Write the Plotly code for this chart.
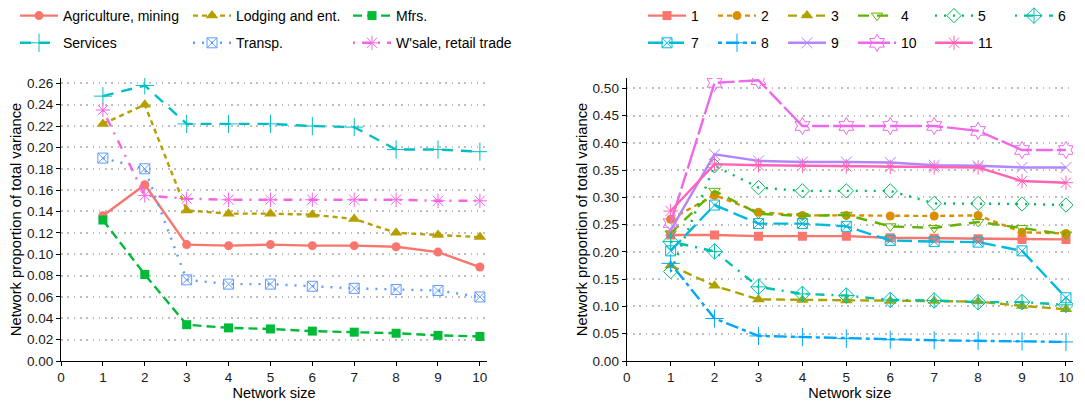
import plotly.graph_objects as go

W, H = 1085, 403

network_size = [1, 2, 3, 4, 5, 6, 7, 8, 9, 10]

# Left panel: sectors
sector_names = ["Agriculture, mining", "Lodging and ent.", "Mfrs.", "Services", "Transp.", "W'sale, retail trade"]
agri = [0.136, 0.165, 0.109, 0.108, 0.109, 0.108, 0.108, 0.107, 0.102, 0.088]
lodging = [0.222, 0.240, 0.141, 0.138, 0.138, 0.137, 0.133, 0.120, 0.118, 0.116]
mfrs = [0.132, 0.081, 0.034, 0.031, 0.030, 0.028, 0.027, 0.026, 0.024, 0.023]
services = [0.248, 0.258, 0.222, 0.222, 0.222, 0.220, 0.219, 0.198, 0.198, 0.196]
transp = [0.190, 0.180, 0.076, 0.072, 0.072, 0.070, 0.068, 0.067, 0.066, 0.060]
wsale = [0.235, 0.155, 0.152, 0.151, 0.151, 0.151, 0.151, 0.151, 0.150, 0.150]
left_values = [agri, lodging, mfrs, services, transp, wsale]

# Right panel: clusters 1..11
cluster_names = ["1", "2", "3", "4", "5", "6", "7", "8", "9", "10", "11"]
c1 = [0.231, 0.231, 0.229, 0.229, 0.229, 0.226, 0.225, 0.224, 0.223, 0.223]
c2 = [0.260, 0.304, 0.273, 0.267, 0.267, 0.266, 0.266, 0.267, 0.236, 0.234]
c3 = [0.175, 0.138, 0.113, 0.112, 0.111, 0.110, 0.110, 0.109, 0.101, 0.095]
c4 = [0.234, 0.312, 0.270, 0.266, 0.268, 0.247, 0.244, 0.255, 0.244, 0.232]
c5 = [0.164, 0.358, 0.318, 0.312, 0.312, 0.312, 0.289, 0.289, 0.288, 0.286]
c6 = [0.219, 0.201, 0.136, 0.123, 0.120, 0.112, 0.111, 0.108, 0.108, 0.103]
c7 = [0.202, 0.286, 0.252, 0.252, 0.247, 0.221, 0.219, 0.218, 0.202, 0.116]
c8 = [0.179, 0.078, 0.046, 0.044, 0.041, 0.039, 0.038, 0.037, 0.036, 0.035]
c9 = [0.240, 0.379, 0.367, 0.365, 0.365, 0.364, 0.359, 0.358, 0.355, 0.355]
c10 = [0.253, 0.510, 0.515, 0.431, 0.431, 0.431, 0.431, 0.422, 0.387, 0.387]
c11 = [0.275, 0.361, 0.359, 0.358, 0.357, 0.356, 0.355, 0.355, 0.330, 0.327]
right_values = [c1, c2, c3, c4, c5, c6, c7, c8, c9, c10, c11]

left_y_ticks = [round(0.02 * i, 2) for i in range(14)]
right_y_ticks = [round(0.05 * i, 2) for i in range(11)]
x_ticks = list(range(0, 11))

# Styles
left_colors = ["#F8766D", "#B79F00", "#00BA38", "#00BFC4", "#619CFF", "#F564E3"]
left_dash = ["solid", "5px,4px", "9px,5px", "11px,8px", "2px,7px", "2px,7px,9px,7px"]
left_symbols = ["circle", "triangle-up", "square", "cross-thin-open", "square-x-open", "asterisk-open"]
left_sizes = [9, 11, 9, 13, 10, 12]
left_legend = ["legend", "legend2", "legend3", "legend", "legend2", "legend3"]

right_colors = ["#F8766D", "#DB8E00", "#AEA200", "#64B200", "#00BD5C", "#00C1A7",
                "#00BADE", "#00A6FF", "#B385FF", "#EF67EB", "#FF63B6"]
right_dash = ["solid", "5px,4px", "9px,5px", "11px,8px", "2px,7px", "2px,7px,9px,7px",
              "15px,6px", "4px,4px,13px,4px", "solid", "32px,4px,17px,4px", "solid"]
right_symbols = ["square", "circle", "triangle-up", "triangle-down-open", "diamond-open",
                 "diamond-cross-open", "square-x-open", "cross-thin-open", "x-thin-open",
                 "hexagram-open", "asterisk-open"]
right_sizes = [9, 9, 11, 10, 11, 12, 10, 13, 11, 13, 12]
right_legend = ["legend4", "legend5", "legend6", "legend7", "legend8", "legend9",
                "legend4", "legend5", "legend6", "legend7", "legend8"]

fig = go.Figure()

for i, (name, vals) in enumerate(zip(sector_names, left_values)):
    open_sym = left_symbols[i].endswith("open")
    fig.add_trace(go.Scatter(
        x=network_size, y=vals, name=name, mode="lines+markers",
        xaxis="x", yaxis="y", legend=left_legend[i], legendgroup="L%d" % i,
        line=dict(color=left_colors[i], width=2.4, dash=left_dash[i]),
        marker=dict(symbol=left_symbols[i], size=left_sizes[i], color=left_colors[i],
                    line=dict(color=left_colors[i], width=1 if open_sym else 0)),
    ))

for i, (name, vals) in enumerate(zip(cluster_names, right_values)):
    open_sym = right_symbols[i].endswith("open")
    fig.add_trace(go.Scatter(
        x=network_size, y=vals, name=name, mode="lines+markers",
        xaxis="x2", yaxis="y2", legend=right_legend[i], legendgroup="R%d" % i,
        line=dict(color=right_colors[i], width=2.4, dash=right_dash[i]),
        marker=dict(symbol=right_symbols[i], size=right_sizes[i], color=right_colors[i],
                    line=dict(color=right_colors[i], width=1 if open_sym else 0)),
    ))

FONT = "Liberation Sans, Arial, sans-serif"

ax_common = dict(
    showline=True, linecolor="black", linewidth=1.2,
    ticks="outside", ticklen=4, tickcolor="black", tickwidth=1,
    tickfont=dict(size=13.5, color="#1a1a1a", family=FONT),
    zeroline=False, automargin=False,
)

y_bottom = 1 - 361 / H
y_top = 1 - 78 / H

grid = dict(showgrid=True, gridcolor="#BEBEBE", griddash="1.6px,4.7px", gridwidth=1.6)

fig.update_layout(
    width=W, height=H,
    margin=dict(l=0, r=0, t=0, b=0),
    paper_bgcolor="white", plot_bgcolor="white",
    font=dict(family=FONT, size=14, color="black"),
    xaxis=dict(domain=[61 / W, 487 / W], range=[0, 10.17], tickvals=x_ticks,
               showgrid=False, anchor="y",
               title=dict(text="Network size", font=dict(size=14.5), standoff=3), **ax_common),
    yaxis=dict(domain=[y_bottom, y_top], range=[0, 0.265], tickvals=left_y_ticks,
               tickformat=".2f", anchor="x",
               title=dict(text="Network proportion of total variance", font=dict(size=14.8), standoff=1),
               **grid, **ax_common),
    xaxis2=dict(domain=[626.7 / W, 1073 / W], range=[0, 10.16], tickvals=x_ticks,
                showgrid=False, anchor="y2",
                title=dict(text="Network size", font=dict(size=14.5), standoff=3), **ax_common),
    yaxis2=dict(domain=[y_bottom, y_top], range=[0, 0.519], tickvals=right_y_ticks,
                tickformat=".2f", anchor="x2",
                title=dict(text="Network proportion of total variance", font=dict(size=14.8), standoff=1),
                **grid, **ax_common),
)

legend_common = dict(orientation="v", xanchor="left", yanchor="top", y=1.0,
                     bgcolor="rgba(0,0,0,0)", font=dict(size=14, family=FONT),
                     tracegroupgap=6, traceorder="grouped", itemwidth=38)

left_key_x = [20, 193, 353]
right_key_x = [648, 718, 788, 858, 935, 1015]
legend_keys = ["legend", "legend2", "legend3", "legend4", "legend5", "legend6",
               "legend7", "legend8", "legend9"]
key_x = left_key_x + right_key_x
for lk, kx in zip(legend_keys, key_x):
    fig.update_layout({lk: dict(x=(kx - 5) / W, **legend_common)})

fig.write_html("out.html", post_script="document.body.style.margin='0px';",
               config={"displayModeBar": False})
